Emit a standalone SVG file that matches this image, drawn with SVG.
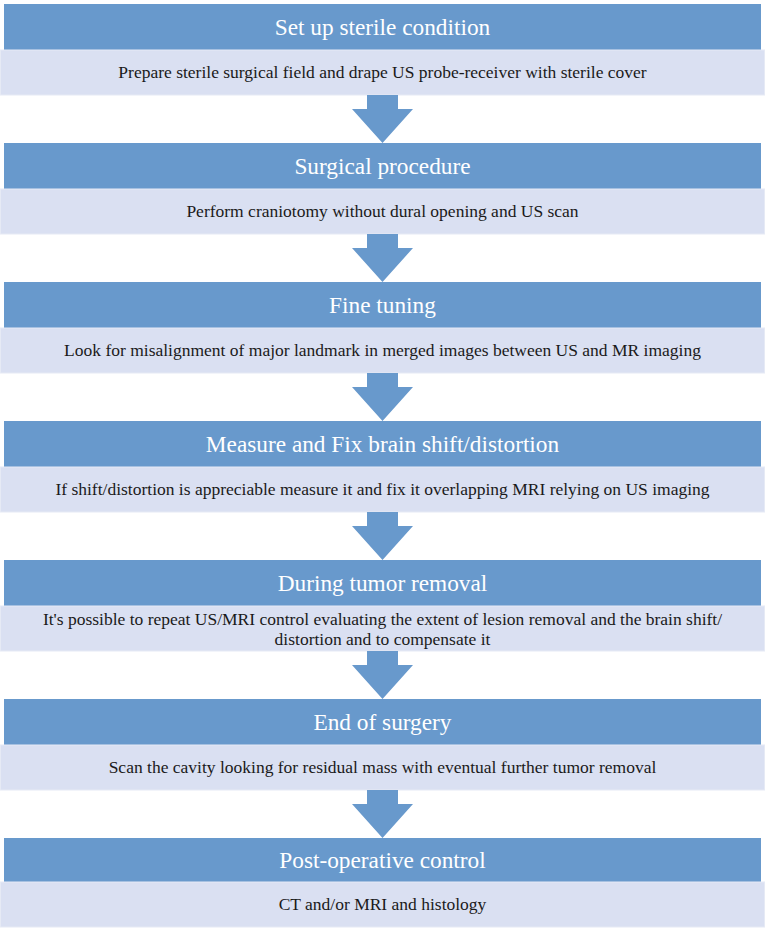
<svg xmlns="http://www.w3.org/2000/svg" width="767" height="929" viewBox="0 0 767 929">
<style>
.hd{fill:#6899CC;}
.sb{fill:#DAE0F2;stroke:#E6EAF5;stroke-width:1;}
.ht{font-family:"Liberation Serif","DejaVu Serif",serif;font-size:23.3px;fill:#FFFFFF;text-anchor:middle;}
.st{font-family:"Liberation Serif","DejaVu Serif",serif;font-size:17.5px;fill:#1A1A1A;text-anchor:middle;}
.ar{fill:#6899CC;}
</style>
<rect width="767" height="929" fill="#FFFFFF"/>
<g id="step1">
<rect class="hd" x="4" y="4" width="757" height="46"/>
<text class="ht" x="382.5" y="35">Set up sterile condition</text>
<rect class="sb" x="0.5" y="50" width="764" height="45"/>
<text class="st" x="382.5" y="78">Prepare sterile surgical field and drape US probe-receiver with sterile cover</text>
</g>
<g id="step2">
<rect class="hd" x="4" y="143" width="757" height="46"/>
<text class="ht" x="382.5" y="174">Surgical procedure</text>
<rect class="sb" x="0.5" y="189" width="764" height="45"/>
<text class="st" x="382.5" y="217">Perform craniotomy without dural opening and US scan</text>
</g>
<g id="step3">
<rect class="hd" x="4" y="282" width="757" height="46"/>
<text class="ht" x="382.5" y="313">Fine tuning</text>
<rect class="sb" x="0.5" y="328" width="764" height="45"/>
<text class="st" x="382.5" y="356">Look for misalignment of major landmark in merged images between US and MR imaging</text>
</g>
<g id="step4">
<rect class="hd" x="4" y="421" width="757" height="46"/>
<text class="ht" x="382.5" y="452">Measure and Fix brain shift/distortion</text>
<rect class="sb" x="0.5" y="467" width="764" height="45"/>
<text class="st" x="382.5" y="495">If shift/distortion is appreciable measure it and fix it overlapping MRI relying on US imaging</text>
</g>
<g id="step5">
<rect class="hd" x="4" y="560" width="757" height="46"/>
<text class="ht" x="382.5" y="591">During tumor removal</text>
<rect class="sb" x="0.5" y="606" width="764" height="45"/>
<text class="st" x="382.5" y="624.5">It's possible to repeat US/MRI control evaluating the extent of lesion removal and the brain shift/</text>
<text class="st" x="382.5" y="644.5">distortion and to compensate it</text>
</g>
<g id="step6">
<rect class="hd" x="4" y="699" width="757" height="46"/>
<text class="ht" x="382.5" y="730">End of surgery</text>
<rect class="sb" x="0.5" y="745" width="764" height="45"/>
<text class="st" x="382.5" y="773">Scan the cavity looking for residual mass with eventual further  tumor removal</text>
</g>
<g id="step7">
<rect class="hd" x="4" y="838" width="757" height="44"/>
<text class="ht" x="382.5" y="868">Post-operative control</text>
<rect class="sb" x="0.5" y="882" width="764" height="45"/>
<text class="st" x="382.5" y="910">CT and/or MRI and histology</text>
</g>
<g id="connectors">
<path class="ar" d="M367,95 H398 V109 H413 L382.5,143 L352,109 H367 Z"/>
<path class="ar" d="M367,234 H398 V248 H413 L382.5,282 L352,248 H367 Z"/>
<path class="ar" d="M367,373 H398 V387 H413 L382.5,421 L352,387 H367 Z"/>
<path class="ar" d="M367,512 H398 V526 H413 L382.5,560 L352,526 H367 Z"/>
<path class="ar" d="M367,651 H398 V665 H413 L382.5,699 L352,665 H367 Z"/>
<path class="ar" d="M367,790 H398 V804 H413 L382.5,838 L352,804 H367 Z"/>
</g>
</svg>
